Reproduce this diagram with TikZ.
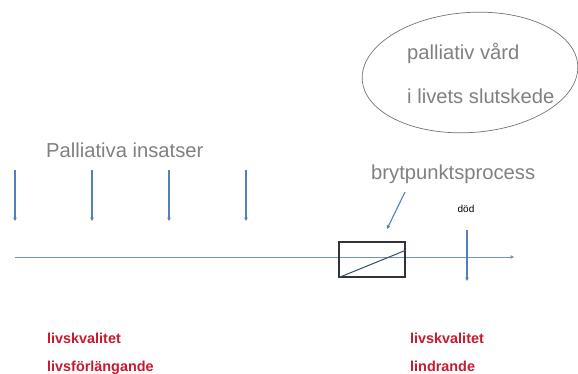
\documentclass[tikz,border=0pt]{standalone}
\usepackage{fontspec}
\setmainfont{Liberation Sans}
\usetikzlibrary{arrows.meta,shapes.geometric}
\definecolor{lineblue}{RGB}{84,128,186}
\definecolor{txtgray}{RGB}{128,128,128}
\definecolor{txtred}{RGB}{200,25,45}
\tikzset{
  graytext/.style={text=txtgray, font=\fontsize{20.2}{24}\selectfont, inner sep=0pt, anchor=base west},
  redtext/.style={text=txtred, font=\bfseries\fontsize{14.4}{16}\selectfont, inner sep=0pt, anchor=base west},
  blarrow/.style={draw=lineblue, line width=1.1pt, -{Triangle[length=3.5pt,width=3.5pt]}},
}
\begin{document}
\begin{tikzpicture}[x=1pt,y=-1pt]
\useasboundingbox (0,0) rectangle (578,374);
% ellipse
\node[draw=txtgray!90!black, line width=0.7pt, ellipse, rotate=4, minimum width=216pt, minimum height=120pt, inner sep=0pt] (ell) at (470,72.5) {};
\node[graytext] (t1) at (407,59.5) {palliativ vård};
\node[graytext] (t2) at (407,104) {i livets slutskede};
% titles
\node[graytext] (pi) at (46,158) {Palliativa insatser};
\node[graytext] (bp) at (371,180) {brytpunktsprocess};
% down arrows
\foreach \i/\x in {1/15,2/92,3/169,4/246}{
  \coordinate (a\i s) at (\x,170);
  \coordinate (a\i e) at (\x,221);
  \draw[blarrow] (a\i s) -- (a\i e);
}
% timeline
\coordinate (ts) at (15,257);
\coordinate (te) at (514,257);
\draw[blarrow, line width=1pt, draw=lineblue!85] (ts) -- (te);
% box
\node[draw=black!80, line width=1.5pt, minimum width=66pt, minimum height=35pt, inner sep=0pt] (box) at (372,259.5) {};
\draw[draw=lineblue!60!black, line width=1pt] (box.south west) -- ([yshift=-9pt]box.north east);
% brytpunkt arrow
\coordinate (bs) at (405,192);
\coordinate (be) at (387,229);
\draw[blarrow] (bs) -- (be);
% död
\node[inner sep=0pt, anchor=base, font=\fontsize{10}{12}\selectfont] (dod) at (466,213) {död};
\coordinate (ds) at (467,230);
\coordinate (de) at (467,281);
\draw[blarrow] (ds) -- (de);
% red texts
\node[redtext] (r1) at (47,343) {livskvalitet};
\node[redtext] (r2) at (47,371) {livsförlängande};
\node[redtext] (r3) at (410,343) {livskvalitet};
\node[redtext] (r4) at (410,371) {lindrande};
\end{tikzpicture}
\end{document}
